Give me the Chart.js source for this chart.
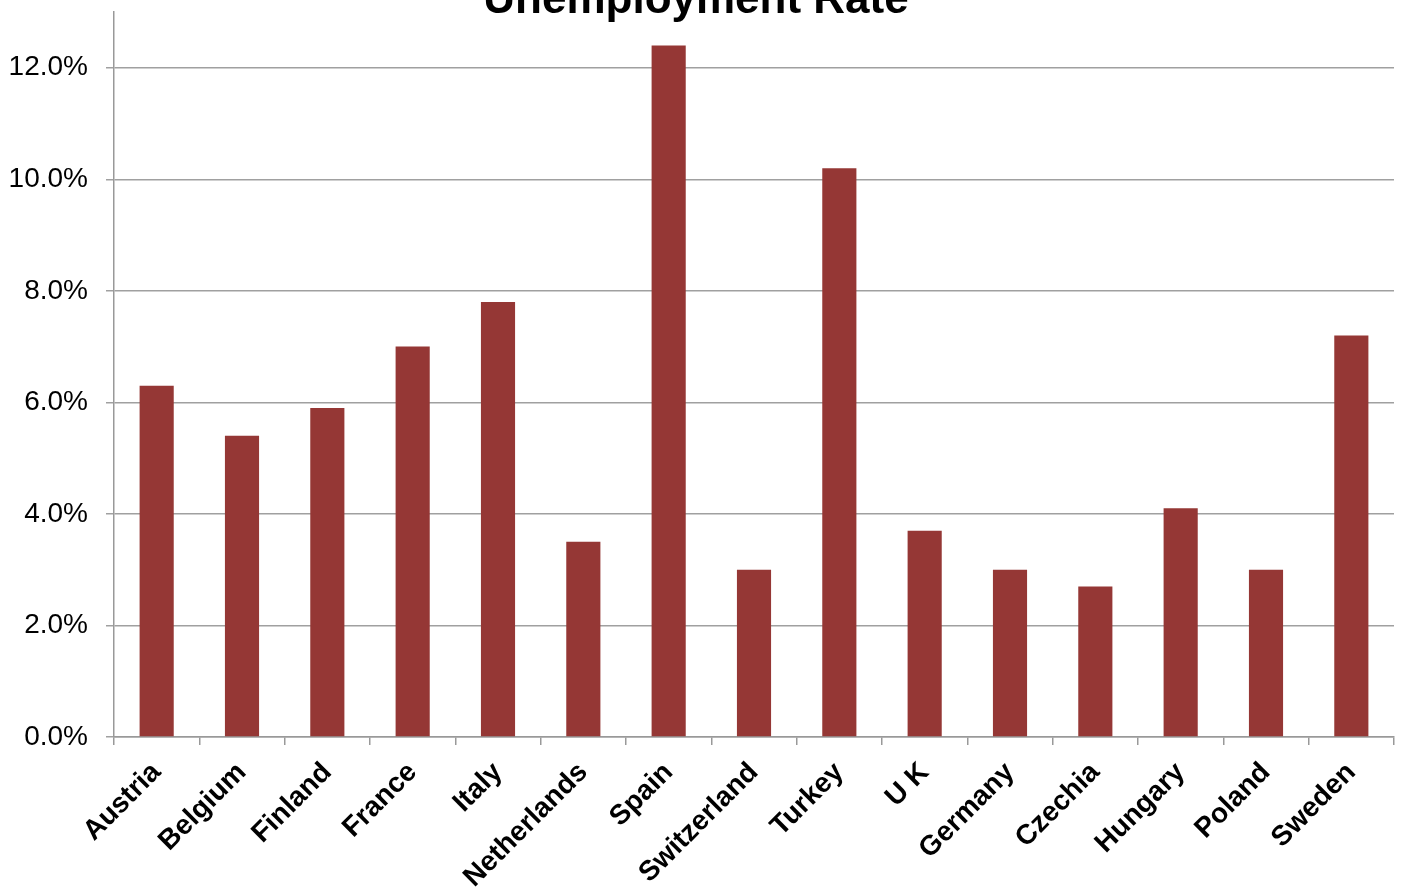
<!DOCTYPE html>
<html>
<head>
<meta charset="utf-8">
<script src="https://cdn.jsdelivr.net/npm/chart.js@4/dist/chart.umd.min.js"></script>
<style>
  html, body { margin: 0; padding: 0; background: #fff; overflow: hidden; }
  #wrap { position: relative; width: 1405px; height: 893px; }
</style>
</head>
<body>
<div id="wrap"><canvas id="myChart" width="1405" height="893"></canvas></div>
<script>
var countries = ["Austria", "Belgium", "Finland", "France", "Italy", "Netherlands", "Spain",
    "Switzerland", "Turkey", "U K", "Germany", "Czechia", "Hungary", "Poland", "Sweden"];
var rates = [6.3, 5.4, 5.9, 7.0, 7.8, 3.5, 12.4, 3.0, 10.2, 3.7, 3.0, 2.7, 4.1, 3.0, 7.2];
var yTicks = [0, 2, 4, 6, 8, 10, 12];
var chartTitle = "Unemployment Rate";

// title sits half off the top edge, like the original screenshot
var titlePlugin = {
    id: 'cutTitle',
    afterDraw: function(chart){
        var ctx = chart.ctx;
        ctx.save();
        ctx.font = "bold 44px 'Liberation Sans', Arial, sans-serif";
        ctx.fillStyle = "#000";
        ctx.textAlign = "center";
        ctx.textBaseline = "alphabetic";
        ctx.fillText(chartTitle, 696, 13);
        ctx.restore();
    }
};

var ctx = document.getElementById('myChart').getContext('2d');

var chart = new Chart(ctx, {
    type: 'bar',
    data: {
        labels: countries,
        datasets: [{
            label: "Unemployment Rate",
            data: rates,
            backgroundColor: "#953735",
            borderWidth: 0,
            categoryPercentage: 0.4,
            barPercentage: 1
        }]
    },
    options: {
        responsive: false,
        animation: false,
        layout: { padding: { top: 12, right: 11, left: 0, bottom: 0 } },
        plugins: {
            legend: { display: false },
            tooltip: { enabled: false }
        },
        scales: {
            x: {
                offset: true,
                grid: {
                    offset: true,
                    drawOnChartArea: false,
                    drawTicks: true,
                    tickLength: 8,
                    color: "#999",
                    lineWidth: 1.5
                },
                border: { color: "#999", width: 1.5 },
                ticks: {
                    color: "#000",
                    font: { family: "'Liberation Sans', Arial, sans-serif", size: 28, weight: 'bold' },
                    maxRotation: 45,
                    minRotation: 45,
                    padding: 11,
                    autoSkip: false
                },
                afterFit: function(scale){ scale.height = 156; }
            },
            y: {
                min: 0,
                max: 13,
                afterBuildTicks: function(scale){
                    scale.ticks = yTicks.map(function(v){ return { value: v }; });
                },
                grid: {
                    color: "#a0a0a0",
                    lineWidth: 1.5,
                    tickLength: 8
                },
                border: { color: "#999", width: 1.5 },
                ticks: {
                    color: "#000",
                    font: { family: "'Liberation Sans', Arial, sans-serif", size: 28 },
                    padding: 18,
                    callback: function(v){ return v.toFixed(1) + "%"; }
                },
                afterFit: function(scale){
                    scale.width = 114;
                    scale.paddingTop = 0;
                    scale.paddingBottom = 0;
                }
            }
        }
    },
    plugins: [titlePlugin]
});
</script>
</body>
</html>
